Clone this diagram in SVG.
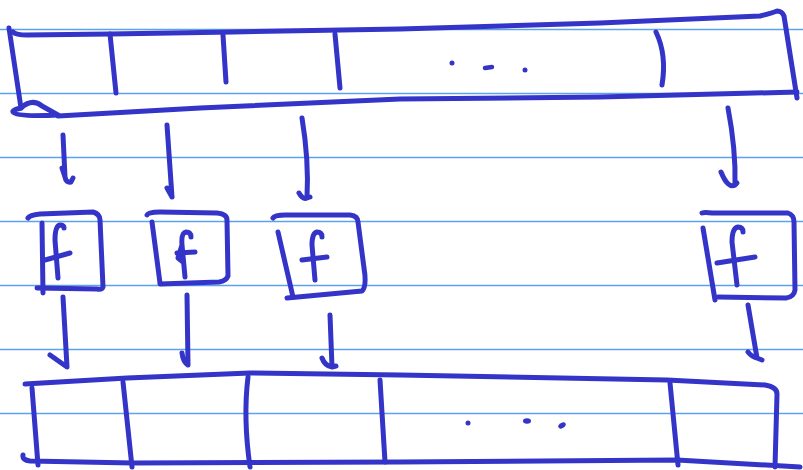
<svg xmlns="http://www.w3.org/2000/svg" width="803" height="470" viewBox="0 0 803 470">
<style>
.rule{stroke:#5ea2ee;stroke-width:1.5;fill:none}
.ink{stroke:#3434c9;stroke-width:5;fill:none;stroke-linecap:round;stroke-linejoin:round}
.dot{fill:#3434c9}
.txt{font-family:"Liberation Sans",sans-serif;}
</style>
<rect width="803" height="470" fill="#ffffff"/>
<g id="paper">
<line class="rule" x1="0" y1="29.5" x2="803" y2="29.5"/>
<line class="rule" x1="0" y1="93.5" x2="803" y2="93.5"/>
<line class="rule" x1="0" y1="157.5" x2="803" y2="157.5"/>
<line class="rule" x1="0" y1="221.5" x2="803" y2="221.5"/>
<line class="rule" x1="0" y1="285.5" x2="803" y2="285.5"/>
<line class="rule" x1="0" y1="349.5" x2="803" y2="349.5"/>
<line class="rule" x1="0" y1="413.5" x2="803" y2="413.5"/>
</g>
<g id="top-array">
<path class="ink" d="M9,28 L21,108"/>
<path class="ink" d="M13,32 Q16,35 27,35 L110,34 L233,32 L400,29 L600,23 L760,16 Q772,13 777,11 Q782,11 784,16 L797,98"/>
<path class="ink" d="M21,108 Q32,98 42,106 L58,115 M58,115 Q16,117 13,112 Q12,110 21,108"/>
<path class="ink" d="M58,116 L200,108 L400,99 L600,97 L797,92"/>
<path class="ink" d="M110,34 L116,93"/>
<path class="ink" d="M223,35 L226,82"/>
<path class="ink" d="M335,34 L340,88"/>
<path class="ink" d="M656,32 Q667,55 662,85"/>
<circle class="dot" cx="452" cy="63" r="2.5"/>
<path class="ink" d="M485,68 L492,67" style="stroke-width:4.5"/>
<circle class="dot" cx="525" cy="70" r="2.5"/>
</g>
<g id="f1">
<path class="ink" d="M28,218 Q30,215 40,214 L93,212 Q100,214 100,220 L103,287 Q102,290 97,289 L37,288"/>
<path class="ink" d="M42,223 L43,293"/>
<path class="ink" d="M58,278 L55,240 Q55,226 60,225 Q64,225 64,228"/>
<path class="ink" d="M45,260 L70,253"/>
</g>
<g id="f2">
<path class="ink" d="M147,215 Q148,212 160,212 L217,213 Q227,214 227,220 L228,276 Q226,281 219,282 L160,284"/>
<path class="ink" d="M152,222 L160,283"/>
<path class="ink" d="M185,277 L182,245 Q181,233 186,232 Q191,232 191,237 M182,245 L178,258 L183,262"/>
<path class="ink" d="M177,253 L195,252"/>
</g>
<g id="f3">
<path class="ink" d="M273,218 Q275,215 285,215 L350,215 Q358,216 358,222 L364,268 Q367,286 362,291 L287,298"/>
<path class="ink" d="M278,232 L293,297"/>
<path class="ink" d="M315,280 L312,245 Q312,233 317,232 Q322,232 322,237"/>
<path class="ink" d="M302,260 L327,257"/>
</g>
<g id="f4">
<path class="ink" d="M702,213 Q705,212 712,213 L788,213 Q794,215 794,222 L795,290 Q794,297 786,298 L718,297"/>
<path class="ink" d="M703,228 L715,300"/>
<path class="ink" d="M737,285 L732,242 Q732,228 738,227 Q743,227 743,232"/>
<path class="ink" d="M717,263 L755,257"/>
</g>
<g id="connectors">
<path class="ink" d="M63,135 L65,177 Q66,183 71,182 L73,178 M62,168 L65,177"/>
<path class="ink" d="M167,125 L172,197 M167,188 L172,197"/>
<path class="ink" d="M302,118 Q309,160 307,198 Q303,200 299,193 M307,198 L310,197"/>
<path class="ink" d="M728,108 Q736,150 735,185 Q728,189 721,172 M735,185 L737,183"/>
<path class="ink" d="M63,297 L67,367 L50,355"/>
<path class="ink" d="M187,295 L188,365 Q183,362 182,353"/>
<path class="ink" d="M330,315 L332,367 Q325,366 322,358 M332,367 L336,366"/>
<path class="ink" d="M748,305 L757,358 Q752,357 748,352 M757,358 L762,360"/>
</g>
<g id="bottom-array">
<path class="ink" d="M25,384 L127,378 L250,373 L400,375 L667,380 L765,385 Q777,387 777,394 L775,467"/>
<path class="ink" d="M32,388 L38,465"/>
<path class="ink" d="M23,455 Q22,460 30,461 L133,463 L400,462 L677,460 L800,467"/>
<path class="ink" d="M123,382 L132,467"/>
<path class="ink" d="M248,377 Q243,418 250,467"/>
<path class="ink" d="M380,380 L385,462"/>
<path class="ink" d="M670,383 L678,465"/>
<circle class="dot" cx="468" cy="423" r="2.5"/>
<ellipse class="dot" cx="527" cy="421" rx="4" ry="2.8"/>
<ellipse class="dot" cx="562" cy="425.5" rx="4" ry="2.5" transform="rotate(-30 562 425.5)"/>
</g>
</svg>
